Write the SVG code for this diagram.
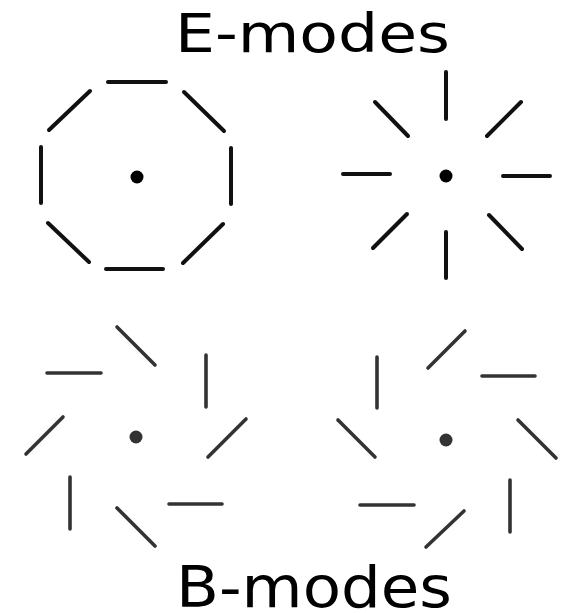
<svg xmlns="http://www.w3.org/2000/svg" width="564" height="613" viewBox="0 0 564 613">
<style>
.e line{stroke:#111;stroke-width:4;stroke-linecap:round}
.b line{stroke:#333;stroke-width:3.6;stroke-linecap:round}
.lbl{font-family:"DejaVu Sans","Liberation Sans",sans-serif;fill:#000}
</style>
<rect width="564" height="613" fill="#fff"/>
<text class="lbl" x="175" y="52" font-size="54" textLength="275" lengthAdjust="spacingAndGlyphs">E-modes</text>
<text class="lbl" x="176" y="607" font-size="57" textLength="276" lengthAdjust="spacingAndGlyphs">B-modes</text>
<g id="e-ring" class="e">
<line x1="108" y1="82" x2="166" y2="82"/>
<line x1="90" y1="91" x2="49" y2="130"/>
<line x1="184" y1="92" x2="224" y2="131"/>
<line x1="41" y1="147" x2="41" y2="203"/>
<line x1="231" y1="148" x2="231" y2="204"/>
<line x1="48" y1="223" x2="89" y2="262"/>
<line x1="223" y1="224" x2="183" y2="263"/>
<line x1="106" y1="269" x2="163" y2="269"/>
<circle cx="137" cy="177" r="6.5" fill="#000"/>
</g>
<g id="e-radial" class="e">
<line x1="446" y1="72" x2="446" y2="119"/>
<line x1="375" y1="102" x2="408" y2="136"/>
<line x1="521" y1="102" x2="487" y2="136"/>
<line x1="343" y1="174" x2="390" y2="174"/>
<line x1="503" y1="176" x2="550" y2="176"/>
<line x1="407" y1="214" x2="373" y2="248"/>
<line x1="446" y1="232" x2="446" y2="278"/>
<line x1="489" y1="215" x2="522" y2="249"/>
<circle cx="446" cy="176" r="6.5" fill="#000"/>
</g>
<g id="b-left" class="b">
<line x1="117" y1="327" x2="155" y2="365"/>
<line x1="47" y1="373" x2="101" y2="373"/>
<line x1="206" y1="355" x2="206" y2="407"/>
<line x1="63" y1="417" x2="26" y2="454"/>
<line x1="246" y1="419" x2="208" y2="457"/>
<line x1="70" y1="477" x2="70" y2="529"/>
<line x1="169" y1="504" x2="222" y2="504"/>
<line x1="117" y1="508" x2="155" y2="546"/>
<circle cx="136" cy="437" r="6.5" fill="#333"/>
</g>
<g id="b-right" class="b">
<line x1="465" y1="331" x2="428" y2="368"/>
<line x1="377" y1="357" x2="377" y2="408"/>
<line x1="482" y1="376" x2="535" y2="376"/>
<line x1="338" y1="420" x2="375" y2="457"/>
<line x1="518" y1="420" x2="556" y2="458"/>
<line x1="360" y1="505" x2="414" y2="505"/>
<line x1="464" y1="511" x2="426" y2="547"/>
<line x1="510" y1="480" x2="510" y2="532"/>
<circle cx="446" cy="440" r="6.5" fill="#333"/>
</g>
<g id="connectors"/>
</svg>
